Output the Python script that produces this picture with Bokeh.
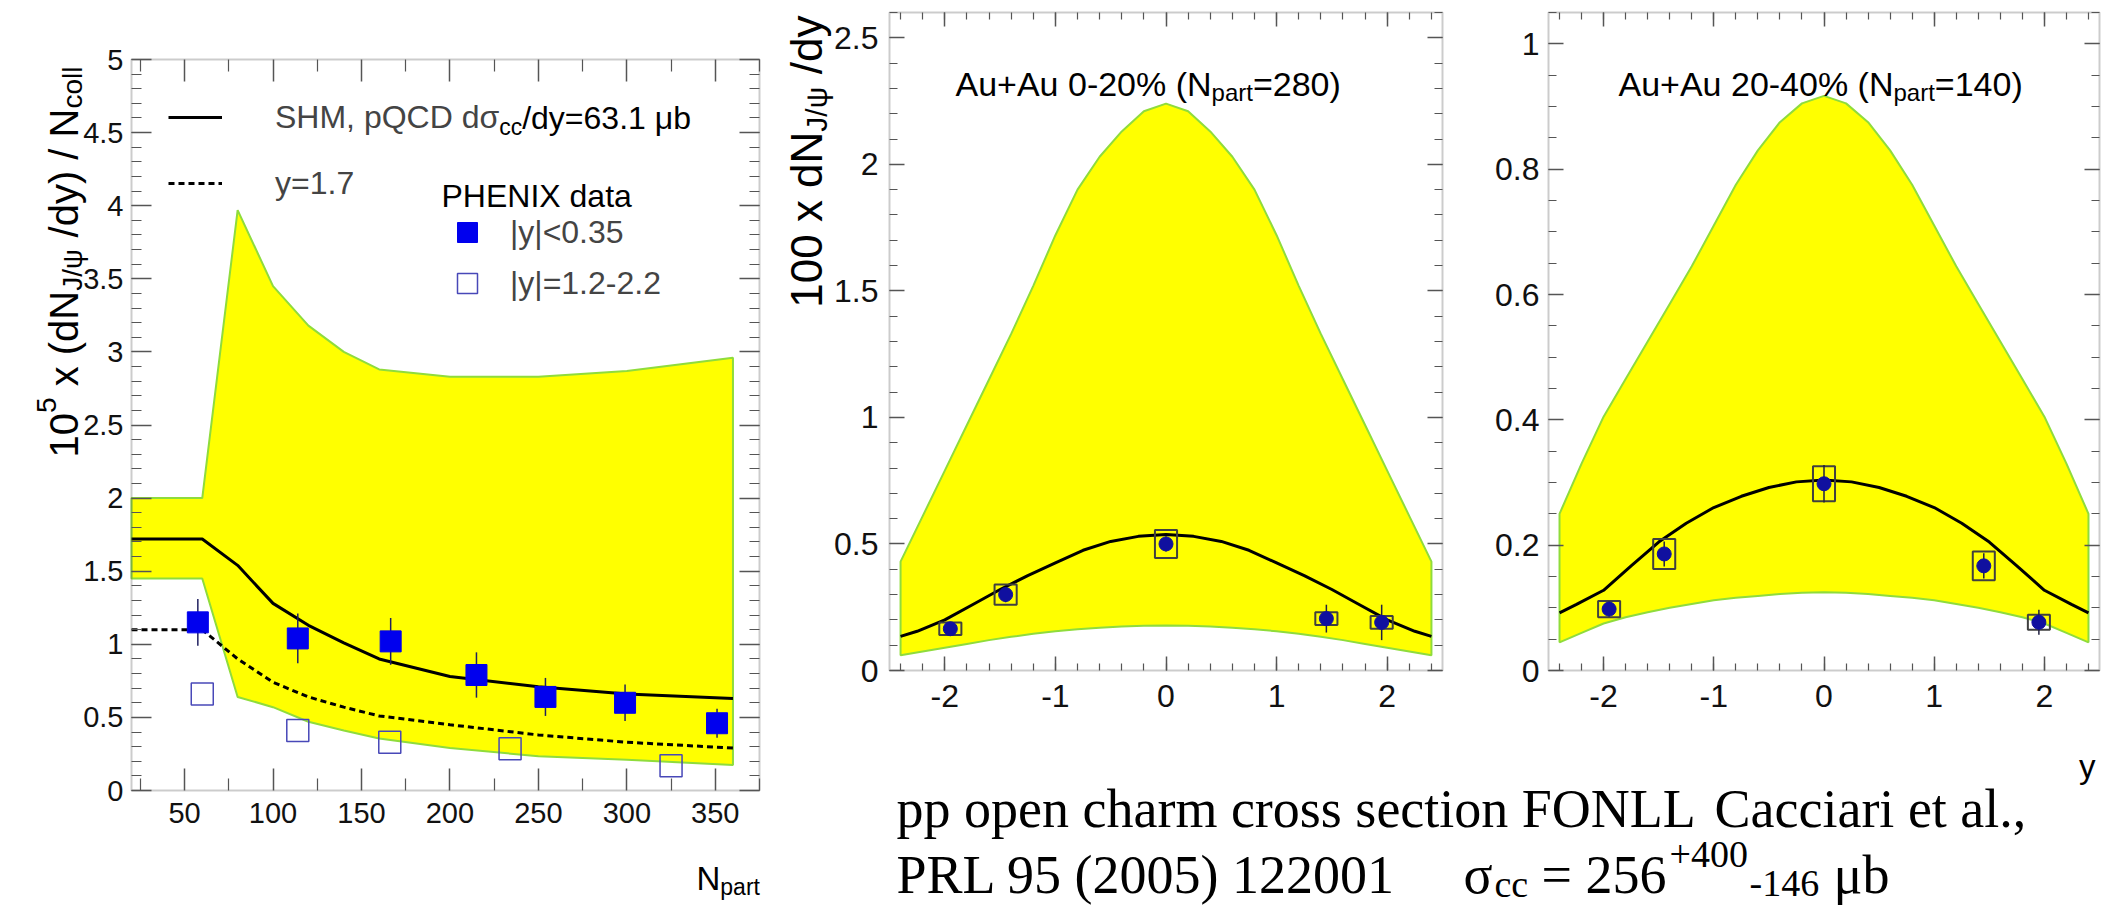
from bokeh.plotting import figure
from bokeh.models import (Range1d, Label, LinearAxis, FixedTicker, CustomJSTickFormatter,
                          Legend, LegendItem, Plot, BoxAnnotation)
from bokeh.layouts import row, column
from bokeh.embed import file_html
from bokeh.resources import INLINE

# ---------------- data: left panel (vs N_part) ----------------
npart_band = [20, 60, 80, 100, 120, 140, 160, 200, 250, 300, 360]
band1_upper = [2.0, 2.0, 3.97, 3.45, 3.18, 3.0, 2.88, 2.83, 2.83, 2.87, 2.96]
band1_lower = [1.45, 1.45, 0.64, 0.57, 0.47, 0.41, 0.355, 0.29, 0.235, 0.21, 0.175]
npart_curve = [20, 60, 80, 100, 120, 140, 160, 200, 250, 300, 360]
shm_mid = [1.72, 1.72, 1.54, 1.28, 1.13, 1.01, 0.90, 0.78, 0.71, 0.66, 0.63]
shm_fwd = [1.10, 1.10, 0.90, 0.74, 0.64, 0.57, 0.51, 0.45, 0.38, 0.33, 0.29]
npart_mid = [57.5, 114, 166.5, 215, 254, 299, 351]
raa_mid = [1.15, 1.04, 1.02, 0.79, 0.64, 0.60, 0.46]
err_mid = [0.16, 0.17, 0.16, 0.155, 0.13, 0.125, 0.10]
npart_fwd = [60, 114, 166, 234, 325]
raa_fwd = [0.66, 0.41, 0.33, 0.285, 0.17]

# ---------------- data: rapidity panels ----------------
y_band = [-2.4, -2.2, -2.0, -1.8, -1.6, -1.4, -1.2, -1.0, -0.8, -0.6, -0.4, -0.2, 0.0,
          0.2, 0.4, 0.6, 0.8, 1.0, 1.2, 1.4, 1.6, 1.8, 2.0, 2.2, 2.4]
band2_upper = [0.43, 0.61, 0.79, 0.97, 1.15, 1.33, 1.52, 1.72, 1.90, 2.03, 2.13, 2.21, 2.24,
               2.21, 2.13, 2.03, 1.90, 1.72, 1.52, 1.33, 1.15, 0.97, 0.79, 0.61, 0.43]
band2_lower = [0.06, 0.075, 0.09, 0.105, 0.12, 0.133, 0.145, 0.155, 0.163, 0.169, 0.174, 0.177, 0.178,
               0.177, 0.174, 0.169, 0.163, 0.155, 0.145, 0.133, 0.12, 0.105, 0.09, 0.075, 0.06]
band3_upper = [0.25, 0.33, 0.405, 0.465, 0.525, 0.585, 0.645, 0.71, 0.775, 0.83, 0.875, 0.905, 0.917,
               0.905, 0.875, 0.83, 0.775, 0.71, 0.645, 0.585, 0.525, 0.465, 0.405, 0.33, 0.25]
band3_lower = [0.045, 0.06, 0.075, 0.085, 0.093, 0.10, 0.106, 0.112, 0.116, 0.119, 0.122, 0.124, 0.125,
               0.124, 0.122, 0.119, 0.116, 0.112, 0.106, 0.10, 0.093, 0.085, 0.075, 0.06, 0.045]
y_curve = [-2.4, -2.25, -2.0, -1.75, -1.5, -1.25, -1.0, -0.75, -0.5, -0.25, 0.0,
           0.25, 0.5, 0.75, 1.0, 1.25, 1.5, 1.75, 2.0, 2.25, 2.4]
shm_0_20 = [0.135, 0.155, 0.20, 0.26, 0.32, 0.375, 0.425, 0.475, 0.51, 0.53, 0.537,
            0.53, 0.51, 0.475, 0.425, 0.375, 0.32, 0.26, 0.20, 0.155, 0.135]
shm_20_40 = [0.092, 0.105, 0.128, 0.167, 0.205, 0.235, 0.26, 0.278, 0.292, 0.301, 0.304,
             0.301, 0.292, 0.278, 0.26, 0.235, 0.205, 0.167, 0.128, 0.105, 0.092]
y_pts = [-1.95, -1.45, 0.0, 1.45, 1.95]
val_0_20 = [0.165, 0.30, 0.50, 0.205, 0.19]
stat_0_20 = [0.02, 0.03, 0.03, 0.055, 0.07]
sys_0_20 = [0.025, 0.04, 0.055, 0.025, 0.025]
val_20_40 = [0.098, 0.186, 0.298, 0.167, 0.077]
stat_20_40 = [0.012, 0.02, 0.03, 0.02, 0.02]
sys_20_40 = [0.013, 0.024, 0.028, 0.023, 0.012]

# ---------------- text metrics (Helvetica widths per 1000 em) ----------------
HELV = {' ': 278, '%': 889, '(': 333, ')': 333, '+': 584, ',': 278, '-': 333, '.': 278,
        '/': 278, '<': 584, '=': 584, '|': 260, 'A': 667, 'C': 722, 'D': 722, 'E': 667,
        'H': 722, 'I': 278, 'J': 500, 'M': 833, 'N': 722, 'P': 667, 'Q': 778, 'S': 667,
        'X': 667, 'a': 556, 'b': 556, 'c': 500, 'd': 556, 'e': 556, 'l': 222, 'o': 556,
        'p': 556, 'r': 333, 't': 278, 'u': 556, 'x': 500, 'y': 500, 'σ': 600, 'ψ': 730,
        'μ': 576}
for _d in "0123456789":
    HELV[_d] = 556

SANS = "Liberation Sans"
SERIF = "Liberation Serif"
AXIS_COL = "#555555"
ROT = 1.5707963267948966
BAND_FILL = "#ffff00"
BAND_LINE = "#8fdc3c"


def twidth(s, size):
    return sum(HELV.get(ch, 556) for ch in s) * size / 1000.0


def put(p, geo, Xp, Yp, text, size, font=SANS, angle=0.0, baseline="alphabetic", align="left"):
    """geo = (canvas origin X, canvas origin Y, canvas height) in page pixels; frame = canvas."""
    ox, oy, h = geo
    p.add_layout(Label(x=Xp - ox, y=h - (Yp - oy), x_units="screen", y_units="screen",
                       text=text, text_font=font, text_font_size=f"{size}px",
                       text_color="black", text_baseline=baseline, text_align=align,
                       angle=angle))


def runs(p, geo, X, Y, items, angle=0.0, baseline="alphabetic"):
    for text, size, dy in items:
        body = text.lstrip(" ")
        lead = twidth(text[:len(text) - len(body)], size)
        w = twidth(text, size)
        if angle == 0.0:
            put(p, geo, X + lead, Y - dy, body, size, baseline=baseline)
            X += w
        else:
            put(p, geo, X - dy, Y - lead, body, size, angle=angle, baseline=baseline)
            Y -= w


def runs_length(items):
    return sum(twidth(t, s) for t, s, _ in items)


def style_axis(ax, ticks, minor, maj_len, min_len, size, standoff, labels=True):
    ax.ticker = FixedTicker(ticks=ticks, minor_ticks=minor)
    ax.major_tick_in = maj_len
    ax.major_tick_out = 0
    ax.minor_tick_in = min_len
    ax.minor_tick_out = 0
    ax.major_tick_line_color = AXIS_COL
    ax.minor_tick_line_color = AXIS_COL
    ax.major_tick_line_width = 1.5
    ax.minor_tick_line_width = 1.2
    ax.axis_line_color = None
    if labels:
        ax.formatter = CustomJSTickFormatter(code="return String(Math.round(tick*1000)/1000);")
        ax.major_label_text_font = SANS
        ax.major_label_text_font_size = f"{size}px"
        ax.major_label_text_color = "#111111"
        ax.major_label_standoff = standoff
    else:
        ax.formatter = CustomJSTickFormatter(code="return '';")
        ax.major_label_text_font_size = "1px"
        ax.major_label_standoff = 0


def panel(canvas, frame, xr, yr, xt, xm, yt, ym, xlen, ylen, size, xstand, ystand):
    """Figure whose frame fills its canvas; the ROOT-style box sits at the page pixels `frame`."""
    X0, Y0, W, H = canvas
    L, T, R, B = frame
    sx = (R - L) / (xr[1] - xr[0])
    sy = (B - T) / (yr[1] - yr[0])
    p = figure(width=W, height=H,
               x_range=Range1d(xr[0] - (L - X0) / sx, xr[1] + (X0 + W - R) / sx),
               y_range=Range1d(yr[0] - (Y0 + H - B) / sy, yr[1] + (T - Y0) / sy),
               x_axis_location=None, y_axis_location=None, toolbar_location=None,
               output_backend="svg", title=None, min_border=0,
               background_fill_color="white", border_fill_color="white")
    p.grid.visible = False
    p.outline_line_color = None
    for side, loc, tk, mn, ln, lab, st in [
            ("below", yr[0], xt, xm, xlen, True, xstand),
            ("left", xr[0], yt, ym, ylen, True, ystand),
            ("above", yr[1], xt, xm, xlen, False, 0),
            ("right", xr[1], yt, ym, ylen, False, 0)]:
        ax = LinearAxis(fixed_location=loc)
        style_axis(ax, tk, mn, ln[0], ln[1], size, st, labels=lab)
        p.add_layout(ax, side)
    p.add_layout(BoxAnnotation(left=xr[0], right=xr[1], bottom=yr[0], top=yr[1],
                               fill_color=None, line_color=AXIS_COL, line_width=2))
    return p


# ======================= panel 1 =======================
GEO1 = (0, 0, 905)
p1 = panel((0, 0, 770, 905), (131, 59, 759, 790), (20, 375), (0, 5),
           [50, 100, 150, 200, 250, 300, 350], [25 + 50 * k for k in range(8)],
           [0.5 * k for k in range(11)], [0.1 * k for k in range(51)],
           (22, 12), (20, 10), 29, 12, 8)

p1.patch(npart_band + npart_band[::-1], band1_upper + band1_lower[::-1],
         fill_color=BAND_FILL, line_color=BAND_LINE, line_width=2)
r_shm = p1.line(npart_curve, shm_mid, line_color="black", line_width=3)
r_dot = p1.line(npart_curve, shm_fwd, line_color="black", line_width=3, line_dash="6 4")
p1.segment(npart_mid, [v - e for v, e in zip(raa_mid, err_mid)],
           npart_mid, [v + e for v, e in zip(raa_mid, err_mid)],
           line_color="#202060", line_width=1.5)
r_mid = p1.scatter(npart_mid, raa_mid, marker="square", size=21,
                   fill_color="#0000ee", line_color="#0000ee")
r_fwd = p1.scatter(npart_fwd, raa_fwd, marker="square", size=22, fill_color=None,
                   line_color="#4848b8", line_width=1.5)

# legend boxes: location = bottom-left corner, measured from the canvas bottom-left
leg1 = Legend(items=[LegendItem(label="SHM, pQCD dσ", renderers=[r_shm]),
                     LegendItem(label="y=1.7", renderers=[r_dot])],
              location=(168, 905 - 205), orientation="vertical", glyph_width=54, glyph_height=44,
              label_height=44, spacing=22, padding=0, margin=0, label_standoff=53,
              border_line_color=None, background_fill_alpha=0,
              label_text_font=SANS, label_text_font_size="32px")
p1.add_layout(leg1)
leg2 = Legend(items=[LegendItem(label="|y|<0.35", renderers=[r_mid]),
                     LegendItem(label="|y|=1.2-2.2", renderers=[r_fwd])],
              location=(442, 905 - 308), orientation="vertical", glyph_width=50, glyph_height=50,
              label_height=50, spacing=1, padding=0, margin=0, label_standoff=18,
              border_line_color=None, background_fill_alpha=0,
              label_text_font=SANS, label_text_font_size="32px")
p1.add_layout(leg2)

runs(p1, GEO1, 275 + twidth("SHM, pQCD dσ", 32), 117,
     [("cc", 23, -9), ("/dy=63.1 μb", 32, 0)], baseline="middle")
put(p1, GEO1, 441, 195, "PHENIX data", 32, baseline="middle")

ylab1 = [("10", 40, 0), ("5", 28, 17), (" x (dN", 40, 0), ("J/ψ", 28, -9),
         (" /dy) / N", 40, 0), ("coll", 28, -9)]
runs(p1, GEO1, 63, 66 + runs_length(ylab1), ylab1, angle=ROT)
runs(p1, GEO1, 696, 878, [("N", 33, 0), ("part", 23, -8)])

# ======================= panels 2 and 3 =======================
H_TOP = 725
GEO2 = (770, 0, H_TOP)
GEO3 = (1450, 0, H_TOP)
y_minor = [round(-2.4 + 0.2 * k, 2) for k in range(25)]
p2 = panel((770, 0, 680, H_TOP), (889, 12, 1442, 670), (-2.5, 2.5), (0, 2.6),
           [-2, -1, 0, 1, 2], y_minor, [0.5 * k for k in range(6)],
           [0.1 * k for k in range(27)], (14, 7), (15, 8), 32, 14, 11)
p3 = panel((1450, 0, 654, H_TOP), (1548, 12, 2099, 670), (-2.5, 2.5), (0, 1.05),
           [-2, -1, 0, 1, 2], y_minor, [0.2 * k for k in range(6)],
           [0.05 * k for k in range(22)], (14, 7), (15, 8), 32, 14, 9)

for p, up, lo, shm, val, stat, sysu in [
        (p2, band2_upper, band2_lower, shm_0_20, val_0_20, stat_0_20, sys_0_20),
        (p3, band3_upper, band3_lower, shm_20_40, val_20_40, stat_20_40, sys_20_40)]:
    p.patch(y_band + y_band[::-1], up + lo[::-1], fill_color=BAND_FILL,
            line_color=BAND_LINE, line_width=2)
    p.line(y_curve, shm, line_color="black", line_width=3)
    p.quad(left=[v - 0.1 for v in y_pts], right=[v + 0.1 for v in y_pts],
           bottom=[v - s for v, s in zip(val, sysu)], top=[v + s for v, s in zip(val, sysu)],
           fill_color=None, line_color="#404040", line_width=2)
    p.segment(y_pts, [v - e for v, e in zip(val, stat)], y_pts,
              [v + e for v, e in zip(val, stat)], line_color="#202040", line_width=1.5)
    p.scatter(y_pts, val, marker="circle", size=14, fill_color="#10109f",
              line_color="#10109f")

runs(p2, GEO2, 955, 83, [("Au+Au 0-20% (N", 34, 0), ("part", 24, -9), ("=280)", 34, 0)])
runs(p3, GEO3, 1618, 83, [("Au+Au 20-40% (N", 34, 0), ("part", 24, -9), ("=140)", 34, 0)])
ylab2 = [("100 x dN", 44, 0), ("J/ψ", 30, -10), (" /dy", 44, 0)]
runs(p2, GEO2, 806, 15 + runs_length(ylab2), ylab2, angle=ROT)

# ======================= bottom caption =======================
pt = Plot(width=1334, height=905 - H_TOP, x_range=Range1d(0, 1), y_range=Range1d(0, 1),
          min_border=0, toolbar_location=None, output_backend="svg",
          outline_line_color=None, title=None,
          background_fill_color="white", border_fill_color="white")
GEOT = (770, H_TOP, 905 - H_TOP)
put(pt, GEOT, 2095, 766, "y", 33, align="right")
put(pt, GEOT, 896, 808, "pp open charm cross section FONLL", 54, font=SERIF)
put(pt, GEOT, 1714, 808, "Cacciari et al.,", 54, font=SERIF)
put(pt, GEOT, 896, 874, "PRL 95 (2005) 122001", 54, font=SERIF)
put(pt, GEOT, 1463, 874, "σ", 54, font=SERIF)
put(pt, GEOT, 1494, 883, "cc", 38, font=SERIF)
put(pt, GEOT, 1541, 874, "= 256", 54, font=SERIF)
put(pt, GEOT, 1669, 854, "+400", 38, font=SERIF)
put(pt, GEOT, 1749, 883, "-146", 38, font=SERIF)
put(pt, GEOT, 1833, 874, "μb", 54, font=SERIF)

layout = row(p1, column(row(p2, p3), pt))
open("out.html", "w").write(file_html(layout, INLINE))
